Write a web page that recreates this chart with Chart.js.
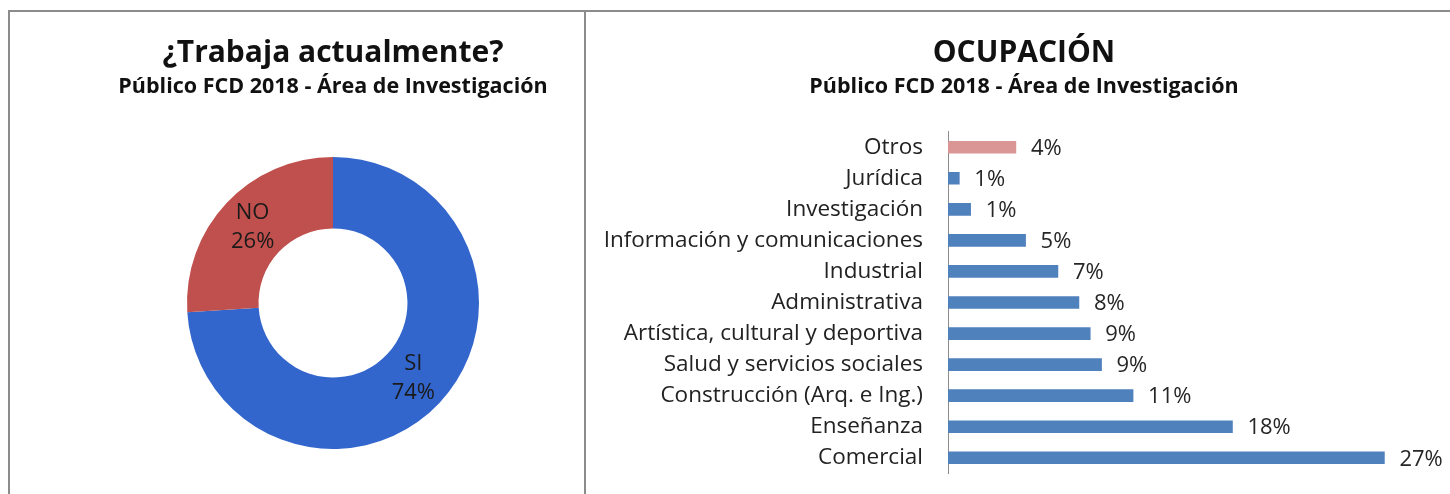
<!DOCTYPE html>
<html>
<head>
<meta charset="utf-8">
<script src="https://cdn.jsdelivr.net/npm/chart.js@4.4.1/dist/chart.umd.min.js"></script>
<style>
  html, body { margin: 0; padding: 0; background: #ffffff; }
  body { width: 1450px; height: 494px; position: relative; overflow: hidden; }
  .line { position: absolute; background: #8c8c8c; }
  #left { position: absolute; left: 10px; top: 12px; width: 574px; height: 482px; }
  #right { position: absolute; left: 586px; top: 12px; width: 864px; height: 482px; }
</style>
</head>
<body>
<div class="line" style="left:8px;top:10px;width:1442px;height:2px;"></div>
<div class="line" style="left:8px;top:10px;width:2px;height:484px;"></div>
<div class="line" style="left:584px;top:10px;width:2px;height:484px;"></div>
<div id="left"><canvas id="c1"></canvas></div>
<div id="right"><canvas id="c2"></canvas></div>
<script>
// ---- data ----
const pieTitle = '¿Trabaja actualmente?';
const barTitle = 'OCUPACIÓN';
const subTitle = 'Público FCD 2018 - Área de Investigación';

const workLabels = ['SI', 'NO'];
const workValues = [74, 26];
const workValueLabels = ['74%', '26%'];

const jobCategories = ['Otros', 'Jurídica', 'Investigación', 'Información y comunicaciones', 'Industrial',
  'Administrativa', 'Artística, cultural y deportiva', 'Salud y servicios sociales',
  'Construcción (Arq. e Ing.)', 'Enseñanza', 'Comercial'];
const jobValues = [4.2, 0.7, 1.4, 4.8, 6.8, 8.1, 8.8, 9.5, 11.45, 17.6, 27.0];
const jobValueLabels = ['4%', '1%', '1%', '5%', '7%', '8%', '9%', '9%', '11%', '18%', '27%'];
const xRange = [0, 30.75];

const FONT = "'Open Sans', 'DejaVu Sans', sans-serif";
Chart.defaults.font.family = FONT;
Chart.defaults.color = '#222';

const titleFont = { family: FONT, size: 30, weight: 'bold' };
const subFont = { family: FONT, size: 21.5, weight: 'bold' };

// ---- doughnut ----
const doughnutLabelPlugin = {
  id: 'doughnutLabels',
  afterDatasetsDraw(chart) {
    const ctx = chart.ctx;
    const meta = chart.getDatasetMeta(0);
    ctx.save();
    ctx.font = '22px ' + FONT;
    ctx.fillStyle = '#1a1a1a';
    ctx.textAlign = 'center';
    ctx.textBaseline = 'middle';
    meta.data.forEach((arc, i) => {
      const p = arc.tooltipPosition();
      ctx.fillText(workLabels[i], p.x, p.y - 14.5);
      ctx.fillText(workValueLabels[i], p.x, p.y + 14.5);
    });
    ctx.restore();
  }
};

new Chart(document.getElementById('c1'), {
  type: 'doughnut',
  data: {
    labels: workLabels,
    datasets: [{
      data: workValues,
      backgroundColor: ['#3366cc', '#c0504d'],
      borderWidth: 0
    }]
  },
  options: {
    responsive: true,
    maintainAspectRatio: false,
    animation: false,
    cutout: '51%',
    layout: { padding: { left: 72, right: 0, top: 0, bottom: 45 } },
    plugins: {
      legend: { display: false },
      tooltip: { enabled: false },
      title: { display: true, text: pieTitle, font: titleFont, color: '#111', padding: { top: 23, bottom: 0 } },
      subtitle: { display: true, text: subTitle, font: subFont, color: '#111', padding: { top: 3, bottom: 57.2 } }
    }
  },
  plugins: [doughnutLabelPlugin]
});

// ---- bars ----
const barLabelPlugin = {
  id: 'barLabels',
  afterDatasetsDraw(chart) {
    const ctx = chart.ctx;
    const meta = chart.getDatasetMeta(0);
    ctx.save();
    ctx.font = '22px ' + FONT;
    ctx.fillStyle = '#262626';
    ctx.textAlign = 'left';
    ctx.textBaseline = 'middle';
    meta.data.forEach((bar, i) => {
      ctx.fillText(jobValueLabels[i], bar.x + 15, bar.y + 1.5);
    });
    ctx.restore();
  }
};

new Chart(document.getElementById('c2'), {
  type: 'bar',
  data: {
    labels: jobCategories,
    datasets: [{
      data: jobValues,
      backgroundColor: (c) => jobCategories[c.dataIndex] === 'Otros' ? '#d99694' : '#4f81bd',
      borderWidth: 0,
      barThickness: 12
    }]
  },
  options: {
    indexAxis: 'y',
    responsive: true,
    maintainAspectRatio: false,
    animation: false,
    layout: { padding: { left: 17, right: 5, top: 0, bottom: 20.7 } },
    scales: {
      x: { display: false, min: xRange[0], max: xRange[1] },
      y: {
        grid: { display: false, drawTicks: false, tickLength: 0 },
        border: { display: true, color: '#8c8c8c', width: 1 },
        ticks: { padding: 25, color: '#222', font: { family: FONT, size: 22.5 } },
        afterFit(scale) {
          scale.width = 345;
          scale.paddingTop = 0;
          scale.paddingBottom = 0;
        }
      }
    },
    plugins: {
      legend: { display: false },
      tooltip: { enabled: false },
      title: { display: true, text: barTitle, font: titleFont, color: '#111', padding: { top: 23, bottom: 0 } },
      subtitle: { display: true, text: subTitle, font: subFont, color: '#111', padding: { top: 3, bottom: 31.9 } }
    }
  },
  plugins: [barLabelPlugin]
});
</script>
</body>
</html>
